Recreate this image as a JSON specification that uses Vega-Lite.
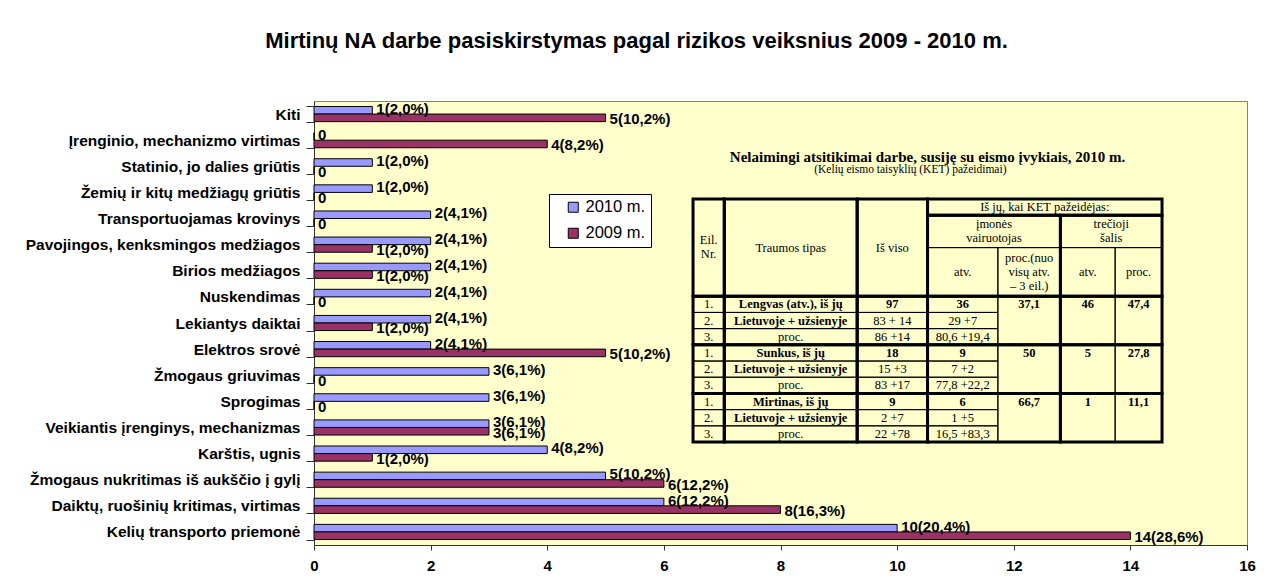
{
  "$schema": "https://vega.github.io/schema/vega-lite/v6.json",
  "width": 933,
  "height": 444,
  "autosize": {"type": "none"},
  "padding": {"left": 314, "top": 101, "right": 21, "bottom": 34},
  "background": "white",
  "title": {
    "text": "Mirtinų NA darbe pasiskirstymas pagal rizikos veiksnius 2009 - 2010 m.",
    "font": "Liberation Sans",
    "fontSize": 22,
    "fontWeight": "bold",
    "color": "black",
    "anchor": "middle",
    "dx": -144,
    "offset": 41
  },
  "config": {
    "view": {"fill": "#FFFFCC", "stroke": "#808080", "strokeWidth": 1}
  },
  "resolve": {"scale": {"x": "independent", "y": "independent"}},
  "layer": [
    {
      "data": {
        "values": [
          {"cat": "Kiti", "year": "2010 m.", "value": 1, "label": "1(2,0%)"},
          {"cat": "Kiti", "year": "2009 m.", "value": 5, "label": "5(10,2%)"},
          {"cat": "Įrenginio, mechanizmo virtimas", "year": "2010 m.", "value": 0, "label": "0"},
          {"cat": "Įrenginio, mechanizmo virtimas", "year": "2009 m.", "value": 4, "label": "4(8,2%)"},
          {"cat": "Statinio, jo dalies griūtis", "year": "2010 m.", "value": 1, "label": "1(2,0%)"},
          {"cat": "Statinio, jo dalies griūtis", "year": "2009 m.", "value": 0, "label": "0"},
          {"cat": "Žemių ir kitų medžiagų griūtis", "year": "2010 m.", "value": 1, "label": "1(2,0%)"},
          {"cat": "Žemių ir kitų medžiagų griūtis", "year": "2009 m.", "value": 0, "label": "0"},
          {"cat": "Transportuojamas krovinys", "year": "2010 m.", "value": 2, "label": "2(4,1%)"},
          {"cat": "Transportuojamas krovinys", "year": "2009 m.", "value": 0, "label": "0"},
          {"cat": "Pavojingos, kenksmingos medžiagos", "year": "2010 m.", "value": 2, "label": "2(4,1%)"},
          {"cat": "Pavojingos, kenksmingos medžiagos", "year": "2009 m.", "value": 1, "label": "1(2,0%)"},
          {"cat": "Birios medžiagos", "year": "2010 m.", "value": 2, "label": "2(4,1%)"},
          {"cat": "Birios medžiagos", "year": "2009 m.", "value": 1, "label": "1(2,0%)"},
          {"cat": "Nuskendimas", "year": "2010 m.", "value": 2, "label": "2(4,1%)"},
          {"cat": "Nuskendimas", "year": "2009 m.", "value": 0, "label": "0"},
          {"cat": "Lekiantys daiktai", "year": "2010 m.", "value": 2, "label": "2(4,1%)"},
          {"cat": "Lekiantys daiktai", "year": "2009 m.", "value": 1, "label": "1(2,0%)"},
          {"cat": "Elektros srovė", "year": "2010 m.", "value": 2, "label": "2(4,1%)"},
          {"cat": "Elektros srovė", "year": "2009 m.", "value": 5, "label": "5(10,2%)"},
          {"cat": "Žmogaus griuvimas", "year": "2010 m.", "value": 3, "label": "3(6,1%)"},
          {"cat": "Žmogaus griuvimas", "year": "2009 m.", "value": 0, "label": "0"},
          {"cat": "Sprogimas", "year": "2010 m.", "value": 3, "label": "3(6,1%)"},
          {"cat": "Sprogimas", "year": "2009 m.", "value": 0, "label": "0"},
          {"cat": "Veikiantis įrenginys, mechanizmas", "year": "2010 m.", "value": 3, "label": "3(6,1%)"},
          {"cat": "Veikiantis įrenginys, mechanizmas", "year": "2009 m.", "value": 3, "label": "3(6,1%)"},
          {"cat": "Karštis, ugnis", "year": "2010 m.", "value": 4, "label": "4(8,2%)"},
          {"cat": "Karštis, ugnis", "year": "2009 m.", "value": 1, "label": "1(2,0%)"},
          {"cat": "Žmogaus nukritimas iš aukščio į gylį", "year": "2010 m.", "value": 5, "label": "5(10,2%)"},
          {"cat": "Žmogaus nukritimas iš aukščio į gylį", "year": "2009 m.", "value": 6, "label": "6(12,2%)"},
          {"cat": "Daiktų, ruošinių kritimas, virtimas", "year": "2010 m.", "value": 6, "label": "6(12,2%)"},
          {"cat": "Daiktų, ruošinių kritimas, virtimas", "year": "2009 m.", "value": 8, "label": "8(16,3%)"},
          {"cat": "Kelių transporto priemonė", "year": "2010 m.", "value": 10, "label": "10(20,4%)"},
          {"cat": "Kelių transporto priemonė", "year": "2009 m.", "value": 14, "label": "14(28,6%)"}
        ]
      },
      "encoding": {
        "y": {
          "field": "cat",
          "type": "nominal",
          "sort": null,
          "scale": {"paddingInner": 0.42, "paddingOuter": 0.21},
          "axis": {
            "title": null,
            "tickBand": "extent",
            "tickSize": 8,
            "tickColor": "#333333",
            "domainColor": "#333333",
            "labelFont": "Liberation Sans",
            "labelFontWeight": "bold",
            "labelFontSize": 15.5,
            "labelColor": "black",
            "labelPadding": 6,
            "labelLimit": 400
          }
        },
        "yOffset": {"field": "year", "type": "nominal", "sort": ["2010 m.", "2009 m."]}
      },
      "layer": [
        {
          "mark": {"type": "bar", "stroke": "black", "strokeWidth": 1},
          "encoding": {
            "x": {
              "field": "value",
              "type": "quantitative",
              "scale": {"domain": [0, 16]},
              "axis": {
                "title": null,
                "values": [0, 2, 4, 6, 8, 10, 12, 14, 16],
                "format": "d",
                "grid": false,
                "tickSize": 5,
                "tickColor": "#333333",
                "domainColor": "#333333",
                "labelFont": "Liberation Sans",
                "labelFontWeight": "bold",
                "labelFontSize": 15,
                "labelColor": "black",
                "labelPadding": 8,
                "labelFlush": false
              }
            },
            "fill": {
              "field": "year",
              "type": "nominal",
              "scale": {"domain": ["2010 m.", "2009 m."], "range": ["#9999FF", "#993366"]},
              "legend": {
                "orient": "none",
                "legendX": 235,
                "legendY": 93,
                "title": null,
                "fillColor": "white",
                "strokeColor": "black",
                "padding": 5,
                "rowPadding": 9,
                "symbolType": "square",
                "symbolSize": 100,
                "symbolOffset": 11,
                "symbolStrokeColor": "black",
                "symbolStrokeWidth": 1,
                "symbolOpacity": 1,
                "labelFont": "Liberation Sans",
                "labelFontSize": 16.5,
                "labelOffset": 4,
                "labelExpr": "datum.label + '   '",
                "labelColor": "black"
              }
            }
          }
        },
        {
          "transform": [{"filter": "datum.year === '2010 m.'"}],
          "mark": {"type": "text", "align": "left", "baseline": "middle", "dx": 4, "dy": -1.5, "font": "Liberation Sans", "fontWeight": "bold", "fontSize": 15, "color": "black"},
          "encoding": {
            "x": {"field": "value", "type": "quantitative"},
            "text": {"field": "label"}
          }
        },
        {
          "transform": [{"filter": "datum.year === '2009 m.'"}],
          "mark": {"type": "text", "align": "left", "baseline": "middle", "dx": 4, "dy": 1.5, "font": "Liberation Sans", "fontWeight": "bold", "fontSize": 15, "color": "black"},
          "encoding": {
            "x": {"field": "value", "type": "quantitative"},
            "text": {"field": "label"}
          }
        }
      ]
    },
    {
      "layer": [
        {
          "data": {"name": "cells"},
          "mark": {"type": "rect", "fill": null, "stroke": "black", "strokeWidth": 1},
          "encoding": {
            "x": {"field": "c0", "type": "quantitative", "scale": {"domain": [-48.49, 70.87]}, "axis": null},
            "x2": {"field": "c1"},
            "y": {"field": "r0", "type": "quantitative", "scale": {"domain": [-12.1, 42.71], "reverse": true}, "axis": null},
            "y2": {"field": "r1"}
          }
        },
        {
          "data": {"name": "blocks"},
          "mark": {"type": "rect", "fill": null, "stroke": "black", "strokeWidth": 3},
          "encoding": {
            "x": {"field": "c0", "type": "quantitative", "scale": {"domain": [-48.49, 70.87]}, "axis": null},
            "x2": {"field": "c1"},
            "y": {"field": "r0", "type": "quantitative", "scale": {"domain": [-12.1, 42.71], "reverse": true}, "axis": null},
            "y2": {"field": "r1"}
          }
        },
        {
          "data": {"name": "cells"},
          "transform": [{"filter": "!datum.emph"}],
          "mark": {"type": "text", "align": "center", "baseline": "middle", "font": "Liberation Serif", "fontSize": 12.5, "lineBreak": "\n", "lineHeight": 14, "color": "black"},
          "encoding": {
            "x": {"field": "cx", "type": "quantitative", "scale": {"domain": [-48.49, 70.87]}, "axis": null},
            "y": {"field": "cy", "type": "quantitative", "scale": {"domain": [-12.1, 42.71], "reverse": true}, "axis": null},
            "text": {"field": "t"}
          }
        },
        {
          "data": {"name": "cells"},
          "transform": [{"filter": "datum.emph"}],
          "mark": {"type": "text", "align": "center", "baseline": "middle", "font": "Liberation Serif", "fontSize": 12.5, "fontWeight": "bold", "color": "black"},
          "encoding": {
            "x": {"field": "cx", "type": "quantitative", "scale": {"domain": [-48.49, 70.87]}, "axis": null},
            "y": {"field": "cy", "type": "quantitative", "scale": {"domain": [-12.1, 42.71], "reverse": true}, "axis": null},
            "text": {"field": "t"}
          }
        },
        {
          "data": {"values": [{"t": "Nelaimingi atsitikimai darbe, susiję su eismo įvykiais, 2010 m.", "cx": 30, "cy": -5.2}]},
          "mark": {"type": "text", "align": "center", "baseline": "middle", "font": "Liberation Serif", "fontSize": 15, "fontWeight": "bold", "color": "black"},
          "encoding": {
            "x": {"field": "cx", "type": "quantitative", "scale": {"domain": [-48.49, 70.87]}, "axis": null},
            "y": {"field": "cy", "type": "quantitative", "scale": {"domain": [-12.1, 42.71], "reverse": true}, "axis": null},
            "text": {"field": "t"}
          }
        },
        {
          "data": {"values": [{"t": "(Kelių eismo taisyklių (KET) pažeidimai)", "cx": 27.8, "cy": -3.6}]},
          "mark": {"type": "text", "align": "center", "baseline": "middle", "font": "Liberation Serif", "fontSize": 11.5, "color": "black"},
          "encoding": {
            "x": {"field": "cx", "type": "quantitative", "scale": {"domain": [-48.49, 70.87]}, "axis": null},
            "y": {"field": "cy", "type": "quantitative", "scale": {"domain": [-12.1, 42.71], "reverse": true}, "axis": null},
            "text": {"field": "t"}
          }
        }
      ]
    }
  ],
  "datasets": {
    "cells": [
      {"c0": 0, "c1": 4, "r0": 0, "r1": 12, "cx": 2, "cy": 5.1, "t": "Eil.\nNr.", "emph": false},
      {"c0": 4, "c1": 21, "r0": 0, "r1": 12, "cx": 12.5, "cy": 6, "t": "Traumos tipas", "emph": false},
      {"c0": 21, "c1": 30, "r0": 0, "r1": 12, "cx": 25.5, "cy": 6, "t": "Iš viso", "emph": false},
      {"c0": 30, "c1": 60, "r0": 0, "r1": 2, "cx": 45, "cy": 1, "t": "Iš jų, kai KET pažeidėjas:", "emph": false},
      {"c0": 30, "c1": 47, "r0": 2, "r1": 6, "cx": 38.5, "cy": 3.1, "t": "įmonės\nvairuotojas", "emph": false},
      {"c0": 47, "c1": 60, "r0": 2, "r1": 6, "cx": 53.5, "cy": 3.1, "t": "trečioji\nšalis", "emph": false},
      {"c0": 30, "c1": 39, "r0": 6, "r1": 12, "cx": 34.5, "cy": 9, "t": "atv.", "emph": false},
      {"c0": 39, "c1": 47, "r0": 6, "r1": 12, "cx": 43, "cy": 7.3, "t": "proc.(nuo\nvisų atv.\n– 3 eil.)", "emph": false},
      {"c0": 47, "c1": 54, "r0": 6, "r1": 12, "cx": 50.5, "cy": 9, "t": "atv.", "emph": false},
      {"c0": 54, "c1": 60, "r0": 6, "r1": 12, "cx": 57, "cy": 9, "t": "proc.", "emph": false},

      {"c0": 0, "c1": 4, "r0": 12, "r1": 14, "cx": 2, "cy": 13, "t": "1.", "emph": false},
      {"c0": 4, "c1": 21, "r0": 12, "r1": 14, "cx": 12.5, "cy": 13, "t": "Lengvas (atv.), iš jų", "emph": true},
      {"c0": 21, "c1": 30, "r0": 12, "r1": 14, "cx": 25.5, "cy": 13, "t": "97", "emph": true},
      {"c0": 30, "c1": 39, "r0": 12, "r1": 14, "cx": 34.5, "cy": 13, "t": "36", "emph": true},
      {"c0": 39, "c1": 47, "r0": 12, "r1": 18, "cx": 43, "cy": 13, "t": "37,1", "emph": true},
      {"c0": 47, "c1": 54, "r0": 12, "r1": 18, "cx": 50.5, "cy": 13, "t": "46", "emph": true},
      {"c0": 54, "c1": 60, "r0": 12, "r1": 18, "cx": 57, "cy": 13, "t": "47,4", "emph": true},
      {"c0": 0, "c1": 4, "r0": 14, "r1": 16, "cx": 2, "cy": 15, "t": "2.", "emph": false},
      {"c0": 4, "c1": 21, "r0": 14, "r1": 16, "cx": 12.5, "cy": 15, "t": "Lietuvoje + užsienyje", "emph": true},
      {"c0": 21, "c1": 30, "r0": 14, "r1": 16, "cx": 25.5, "cy": 15, "t": "83 + 14", "emph": false},
      {"c0": 30, "c1": 39, "r0": 14, "r1": 16, "cx": 34.5, "cy": 15, "t": "29 +7", "emph": false},
      {"c0": 0, "c1": 4, "r0": 16, "r1": 18, "cx": 2, "cy": 17, "t": "3.", "emph": false},
      {"c0": 4, "c1": 21, "r0": 16, "r1": 18, "cx": 12.5, "cy": 17, "t": "proc.", "emph": false},
      {"c0": 21, "c1": 30, "r0": 16, "r1": 18, "cx": 25.5, "cy": 17, "t": "86 +14", "emph": false},
      {"c0": 30, "c1": 39, "r0": 16, "r1": 18, "cx": 34.5, "cy": 17, "t": "80,6 +19,4", "emph": false},

      {"c0": 0, "c1": 4, "r0": 18, "r1": 20, "cx": 2, "cy": 19, "t": "1.", "emph": false},
      {"c0": 4, "c1": 21, "r0": 18, "r1": 20, "cx": 12.5, "cy": 19, "t": "Sunkus, iš jų", "emph": true},
      {"c0": 21, "c1": 30, "r0": 18, "r1": 20, "cx": 25.5, "cy": 19, "t": "18", "emph": true},
      {"c0": 30, "c1": 39, "r0": 18, "r1": 20, "cx": 34.5, "cy": 19, "t": "9", "emph": true},
      {"c0": 39, "c1": 47, "r0": 18, "r1": 24, "cx": 43, "cy": 19, "t": "50", "emph": true},
      {"c0": 47, "c1": 54, "r0": 18, "r1": 24, "cx": 50.5, "cy": 19, "t": "5", "emph": true},
      {"c0": 54, "c1": 60, "r0": 18, "r1": 24, "cx": 57, "cy": 19, "t": "27,8", "emph": true},
      {"c0": 0, "c1": 4, "r0": 20, "r1": 22, "cx": 2, "cy": 21, "t": "2.", "emph": false},
      {"c0": 4, "c1": 21, "r0": 20, "r1": 22, "cx": 12.5, "cy": 21, "t": "Lietuvoje + užsienyje", "emph": true},
      {"c0": 21, "c1": 30, "r0": 20, "r1": 22, "cx": 25.5, "cy": 21, "t": "15 +3", "emph": false},
      {"c0": 30, "c1": 39, "r0": 20, "r1": 22, "cx": 34.5, "cy": 21, "t": "7 +2", "emph": false},
      {"c0": 0, "c1": 4, "r0": 22, "r1": 24, "cx": 2, "cy": 23, "t": "3.", "emph": false},
      {"c0": 4, "c1": 21, "r0": 22, "r1": 24, "cx": 12.5, "cy": 23, "t": "proc.", "emph": false},
      {"c0": 21, "c1": 30, "r0": 22, "r1": 24, "cx": 25.5, "cy": 23, "t": "83 +17", "emph": false},
      {"c0": 30, "c1": 39, "r0": 22, "r1": 24, "cx": 34.5, "cy": 23, "t": "77,8 +22,2", "emph": false},

      {"c0": 0, "c1": 4, "r0": 24, "r1": 26, "cx": 2, "cy": 25, "t": "1.", "emph": false},
      {"c0": 4, "c1": 21, "r0": 24, "r1": 26, "cx": 12.5, "cy": 25, "t": "Mirtinas, iš jų", "emph": true},
      {"c0": 21, "c1": 30, "r0": 24, "r1": 26, "cx": 25.5, "cy": 25, "t": "9", "emph": true},
      {"c0": 30, "c1": 39, "r0": 24, "r1": 26, "cx": 34.5, "cy": 25, "t": "6", "emph": true},
      {"c0": 39, "c1": 47, "r0": 24, "r1": 30, "cx": 43, "cy": 25, "t": "66,7", "emph": true},
      {"c0": 47, "c1": 54, "r0": 24, "r1": 30, "cx": 50.5, "cy": 25, "t": "1", "emph": true},
      {"c0": 54, "c1": 60, "r0": 24, "r1": 30, "cx": 57, "cy": 25, "t": "11,1", "emph": true},
      {"c0": 0, "c1": 4, "r0": 26, "r1": 28, "cx": 2, "cy": 27, "t": "2.", "emph": false},
      {"c0": 4, "c1": 21, "r0": 26, "r1": 28, "cx": 12.5, "cy": 27, "t": "Lietuvoje + užsienyje", "emph": true},
      {"c0": 21, "c1": 30, "r0": 26, "r1": 28, "cx": 25.5, "cy": 27, "t": "2 +7", "emph": false},
      {"c0": 30, "c1": 39, "r0": 26, "r1": 28, "cx": 34.5, "cy": 27, "t": "1 +5", "emph": false},
      {"c0": 0, "c1": 4, "r0": 28, "r1": 30, "cx": 2, "cy": 29, "t": "3.", "emph": false},
      {"c0": 4, "c1": 21, "r0": 28, "r1": 30, "cx": 12.5, "cy": 29, "t": "proc.", "emph": false},
      {"c0": 21, "c1": 30, "r0": 28, "r1": 30, "cx": 25.5, "cy": 29, "t": "22 +78", "emph": false},
      {"c0": 30, "c1": 39, "r0": 28, "r1": 30, "cx": 34.5, "cy": 29, "t": "16,5 +83,3", "emph": false}
    ],
    "blocks": [
      {"c0": 0, "c1": 4, "r0": 0, "r1": 12},
      {"c0": 4, "c1": 21, "r0": 0, "r1": 12},
      {"c0": 21, "c1": 30, "r0": 0, "r1": 12},
      {"c0": 30, "c1": 60, "r0": 0, "r1": 2},
      {"c0": 30, "c1": 47, "r0": 2, "r1": 12},
      {"c0": 47, "c1": 60, "r0": 2, "r1": 12},
      {"c0": 0, "c1": 4, "r0": 12, "r1": 18},
      {"c0": 4, "c1": 21, "r0": 12, "r1": 18},
      {"c0": 21, "c1": 30, "r0": 12, "r1": 18},
      {"c0": 30, "c1": 47, "r0": 12, "r1": 18},
      {"c0": 47, "c1": 60, "r0": 12, "r1": 18},
      {"c0": 0, "c1": 4, "r0": 18, "r1": 24},
      {"c0": 4, "c1": 21, "r0": 18, "r1": 24},
      {"c0": 21, "c1": 30, "r0": 18, "r1": 24},
      {"c0": 30, "c1": 47, "r0": 18, "r1": 24},
      {"c0": 47, "c1": 60, "r0": 18, "r1": 24},
      {"c0": 0, "c1": 4, "r0": 24, "r1": 30},
      {"c0": 4, "c1": 21, "r0": 24, "r1": 30},
      {"c0": 21, "c1": 30, "r0": 24, "r1": 30},
      {"c0": 30, "c1": 47, "r0": 24, "r1": 30},
      {"c0": 47, "c1": 60, "r0": 24, "r1": 30}
    ]
  }
}
